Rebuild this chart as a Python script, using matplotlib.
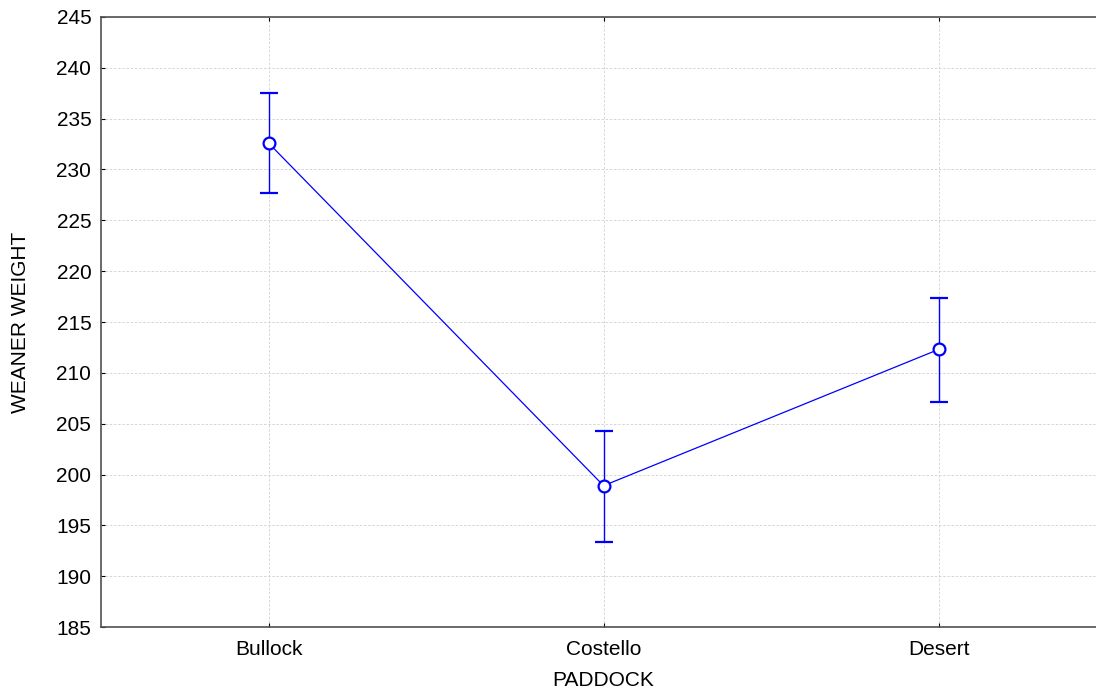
import matplotlib.pyplot as plt

paddocks = ['Bullock', 'Costello', 'Desert']
means = [232.6, 198.9, 212.3]
upper = [237.5, 204.3, 217.4]
lower = [227.7, 193.4, 207.1]

err_lo = [m - l for m, l in zip(means, lower)]
err_hi = [u - m for m, u in zip(means, upper)]

plt.rcParams['font.family'] = ['Liberation Sans', 'DejaVu Sans']

fig = plt.figure(figsize=(10.96, 6.93), dpi=100)
ax = fig.add_axes([0.0922, 0.0952, 0.917, 0.8803])

x = list(range(len(paddocks)))
ax.errorbar(x, means, yerr=[err_lo, err_hi], color='#0000ff', lw=0.9,
            elinewidth=1.0, capsize=6.5, capthick=1.0, marker='o', ms=8.5,
            mfc='white', mec='#0000ff', mew=1.6, zorder=3)

ax.set_xlim(-0.5, 2.5)
ax.set_ylim(185, 245)
ax.set_yticks(range(185, 246, 5))
ax.set_xticks(x)
ax.set_xticklabels(paddocks)

ax.grid(True, color='#d0d0d0', linestyle=(0, (3, 2)), lw=0.6)
ax.set_axisbelow(True)
ax.tick_params(direction='in', length=3, labelsize=15, color='black',
               top=True)
ax.tick_params(axis='y', pad=7)
ax.tick_params(axis='x', pad=9)
for s in ['left', 'top', 'bottom']:
    ax.spines[s].set_color('#505050')
    ax.spines[s].set_linewidth(1.2)
ax.spines['right'].set_visible(False)

ax.set_xlabel('PADDOCK', fontsize=15, labelpad=9)
ax.set_ylabel('WEANER WEIGHT', fontsize=15, labelpad=19)

fig.savefig('out.png', dpi=100)
